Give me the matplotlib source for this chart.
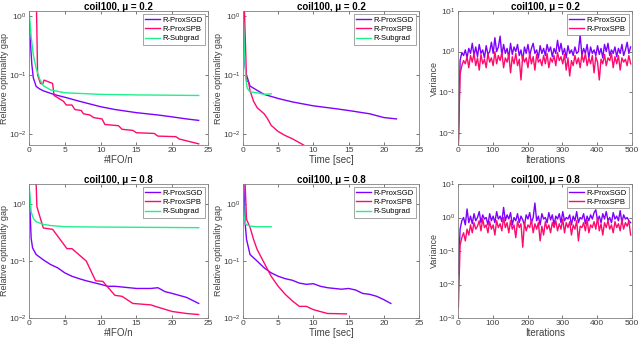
import matplotlib
matplotlib.use('Agg')
import matplotlib.pyplot as plt
import numpy as np

plt.rcParams['font.family'] = ['Liberation Sans', 'DejaVu Sans']

C_SGD = '#7f00ff'
C_SPB = '#ff0a6e'
C_SUB = '#1ef08c'

# ---- mu = 0.2, relative gap vs #IFO/n
ifo_sgd_02 = [0, 0.2, 0.4, 0.6, 1, 1.5, 2, 3, 4, 5, 7, 10, 12, 15, 18, 20, 22, 23.7]
gap_sgd_02 = [1.0, 0.35, 0.15, 0.09, 0.064, 0.058, 0.054, 0.049, 0.045, 0.042, 0.036, 0.029, 0.026, 0.023, 0.021, 0.0195, 0.018, 0.017]
ifo_spb_02 = [0, 1.05, 1.2, 1.6, 1.9, 2.1, 3.3, 3.5, 4.8, 5.2, 6.0, 6.4, 7.3, 7.6, 8.5, 9.0, 10.2, 10.6, 12.5, 13.0, 14.5, 15.0, 17.5, 18.0, 20.5, 21.0, 23.7]
gap_spb_02 = [1.3, 1.3, 0.1, 0.072, 0.07, 0.082, 0.072, 0.045, 0.036, 0.031, 0.031, 0.026, 0.025, 0.022, 0.021, 0.019, 0.018, 0.0145, 0.0138, 0.012, 0.0115, 0.0105, 0.0102, 0.0092, 0.009, 0.0082, 0.0068]
ifo_sub_02 = [0, 0.3, 0.6, 1.0, 1.5, 2.0, 3.0, 5.0, 10.0, 15.0, 23.7]
gap_sub_02 = [1.3, 0.45, 0.22, 0.13, 0.085, 0.066, 0.056, 0.05, 0.047, 0.046, 0.045]

# ---- mu = 0.2, relative gap vs time
t_sgd_02 = [0, 0.15, 0.3, 0.5, 1, 2, 3, 5, 7, 10, 13, 15, 18, 20, 21.8]
tg_sgd_02 = [1.3, 0.3, 0.14, 0.1, 0.065, 0.055, 0.047, 0.040, 0.035, 0.030, 0.027, 0.025, 0.022, 0.019, 0.018]
t_spb_02 = [0, 0.2, 0.5, 0.8, 1.0, 1.5, 2.0, 3.0, 3.5, 4.0, 5.0, 6.0, 7.0, 8.6]
tg_spb_02 = [1.3, 1.3, 0.08, 0.076, 0.054, 0.036, 0.028, 0.022, 0.018, 0.014, 0.011, 0.0094, 0.0083, 0.0065]
t_sub_02 = [0, 0.2, 0.4, 0.6, 1.0, 2.0, 3.0, 4.0]
tg_sub_02 = [1.3, 0.25, 0.09, 0.06, 0.052, 0.05, 0.047, 0.048]

# ---- mu = 0.8, relative gap vs #IFO/n
ifo_sgd_08 = [0, 0.3, 0.5, 1, 2, 3, 4, 5, 6, 7, 8, 10, 11, 12, 13, 15, 17, 18, 19, 20, 22, 23.7]
gap_sgd_08 = [2.3, 0.25, 0.17, 0.13, 0.105, 0.087, 0.076, 0.062, 0.054, 0.049, 0.045, 0.039, 0.036, 0.036, 0.035, 0.033, 0.033, 0.034, 0.029, 0.027, 0.023, 0.018]
ifo_spb_08 = [0, 1.0, 1.1, 2.0, 3.3, 5.3, 6.0, 8.0, 9.3, 10.3, 12.0, 13.0, 14.5, 17.0, 18.0, 20.0, 22.0, 23.7]
gap_spb_08 = [2.3, 2.3, 0.9, 0.38, 0.36, 0.165, 0.165, 0.1, 0.045, 0.044, 0.025, 0.024, 0.018, 0.017, 0.0155, 0.013, 0.012, 0.0115]
ifo_sub_08 = [0, 0.3, 0.6, 1, 2, 3, 5, 10, 23.7]
gap_sub_08 = [2.3, 0.73, 0.56, 0.49, 0.44, 0.42, 0.40, 0.395, 0.385]

# ---- mu = 0.8, relative gap vs time
t_sgd_08 = [0, 0.1, 0.3, 0.5, 1, 2, 3, 4, 5, 6, 7, 8, 9, 10, 11, 12, 14, 15, 16, 17, 18, 19, 20, 21]
tg_sgd_08 = [2.3, 2.3, 0.47, 0.24, 0.13, 0.10, 0.076, 0.062, 0.054, 0.049, 0.046, 0.041, 0.039, 0.040, 0.036, 0.034, 0.032, 0.033, 0.031, 0.027, 0.026, 0.024, 0.021, 0.018]
t_spb_08 = [0, 0.3, 0.5, 1, 1.5, 2, 3, 4, 5, 6, 7, 8, 9, 10, 12, 14.7]
tg_spb_08 = [2.3, 2.3, 0.54, 0.39, 0.24, 0.16, 0.093, 0.054, 0.036, 0.026, 0.020, 0.016, 0.016, 0.014, 0.012, 0.0118]
t_sub_08 = [0, 0.15, 0.4, 1, 2, 4]
tg_sub_08 = [2.3, 0.62, 0.44, 0.41, 0.40, 0.40]

# ---- variance, sampled every 5 iterations
var_sgd_02 = [0.005, 0.6, 0.95, 0.8, 1.1, 0.7, 1.2, 0.9, 1.6, 0.8, 1.3, 0.75, 1.5, 0.9, 1.1, 0.7, 1.4, 0.85, 1.0, 1.7,
              0.9, 2.2, 1.0, 1.3, 2.4, 0.8, 1.5, 0.9, 1.2, 0.7, 1.6, 0.85, 1.3, 1.0, 1.5, 0.8, 1.1, 0.6, 1.3, 0.9,
              1.5, 0.8, 1.2, 1.6, 0.9, 1.1, 0.7, 1.4, 0.9, 1.2, 0.8, 1.5, 1.0, 1.3, 0.75, 1.2, 0.9, 1.9, 1.0, 1.6,
              0.85, 1.2, 0.7, 1.4, 0.9, 1.1, 0.8, 1.3, 0.9, 1.0, 2.6, 0.8, 1.2, 0.9, 1.5, 0.7, 1.3, 0.9, 1.1, 0.8,
              1.4, 0.85, 1.2, 0.7, 1.5, 1.0, 1.6, 0.8, 1.1, 0.9, 1.3, 0.75, 1.2, 0.9, 1.5, 0.8, 1.1, 1.7, 0.9, 1.3]
var_spb_02 = [0.005, 0.28, 0.45, 0.6, 0.5, 0.75, 0.4, 0.8, 0.55, 0.9, 0.45, 0.7, 0.35, 0.85, 0.5, 0.65, 0.4, 0.9, 0.55, 0.7,
              0.45, 1.0, 0.5, 0.8, 0.6, 0.95, 0.4, 0.7, 0.55, 0.85, 0.3, 0.75, 0.5, 0.9, 0.45, 0.65, 0.2, 0.8, 0.55, 0.7,
              0.4, 0.9, 0.5, 0.75, 0.35, 0.85, 0.55, 0.65, 0.45, 0.8, 0.5, 0.9, 0.4, 0.7, 0.55, 0.8, 0.45, 0.95, 0.6, 0.75,
              0.5, 0.85, 0.35, 0.7, 0.25, 0.6, 0.45, 0.8, 0.5, 0.7, 0.4, 0.85, 0.55, 0.9, 0.45, 0.7, 0.5, 0.8, 0.3, 0.75,
              0.55, 0.2, 0.65, 0.5, 0.85, 0.45, 0.7, 0.6, 0.9, 0.4, 0.75, 0.5, 0.8, 0.35, 0.7, 0.55, 0.65, 0.45, 0.8, 0.5]
var_sgd_08 = [0.02, 0.45, 0.8, 1.0, 0.6, 1.8, 0.7, 1.1, 0.65, 1.3, 0.8, 1.0, 1.5, 0.7, 1.2, 0.9, 1.0, 0.6, 1.3, 0.8,
              1.1, 0.7, 1.5, 0.9, 1.1, 0.75, 2.0, 0.8, 1.2, 0.9, 1.4, 0.6, 1.0, 0.8, 1.3, 0.7, 1.1, 0.85, 0.6, 1.2,
              0.9, 1.4, 0.7, 1.0, 2.7, 0.8, 1.1, 0.6, 1.3, 0.9, 1.0, 0.7, 1.4, 0.85, 1.2, 0.6, 1.1, 0.9, 1.3, 0.7,
              1.5, 0.8, 1.0, 0.9, 1.2, 0.6, 1.1, 0.8, 1.5, 0.7, 1.0, 0.9, 1.3, 0.65, 1.1, 0.8, 1.2, 0.9, 1.4, 1.7,
              0.8, 1.1, 0.7, 1.3, 0.9, 1.5, 0.8, 1.0, 0.7, 1.4, 0.9, 1.1, 0.8, 1.6, 0.7, 1.2, 0.9, 1.0, 0.8, 0.7]
var_spb_08 = [0.002, 0.15, 0.25, 0.35, 0.2, 0.45, 0.3, 0.6, 0.35, 0.7, 0.45, 0.55, 0.8, 0.4, 0.9, 0.5, 0.6, 0.35, 0.75, 0.45,
              0.6, 0.3, 0.8, 0.5, 0.65, 0.4, 1.0, 0.5, 0.7, 0.35, 0.8, 0.45, 0.6, 0.25, 0.75, 0.5, 0.65, 0.13, 0.7, 0.4,
              0.6, 0.5, 0.85, 0.35, 0.65, 0.45, 0.7, 0.2, 0.55, 0.3, 0.75, 0.45, 0.6, 0.35, 0.7, 0.5, 0.8, 0.4, 0.65, 0.45,
              0.9, 0.35, 0.7, 0.5, 0.75, 0.3, 0.6, 0.45, 0.8, 0.2, 0.55, 0.5, 0.7, 0.4, 0.85, 0.35, 0.6, 0.5, 0.75, 0.45,
              1.0, 0.4, 0.65, 0.3, 0.7, 0.5, 0.8, 0.45, 0.6, 0.35, 0.75, 0.5, 0.65, 0.4, 0.85, 0.45, 0.7, 0.55, 0.8, 0.3]


def style(ax, title, xlabel, ylabel):
    ax.set_yscale('log')
    ax.set_title(title, fontsize=7, fontweight='bold', pad=0.5)
    ax.set_xlabel(xlabel, fontsize=7, color='#404040', labelpad=1)
    ax.set_ylabel(ylabel, fontsize=6.5, color='#404040')
    ax.yaxis.set_label_coords(-0.112, 0.5)
    ax.tick_params(direction='in', top=True, right=True, labelsize=6, colors='#404040',
                   length=2.5, width=0.5, pad=1.5)
    ax.minorticks_off()
    for s in ax.spines.values():
        s.set_color('#808080')
        s.set_linewidth(0.6)


def legend(ax):
    lg = ax.legend(loc='upper right', fontsize=5.5, fancybox=False, framealpha=1,
                   edgecolor='#808080', borderpad=0.3, labelspacing=0.25,
                   handlelength=2.0, handletextpad=0.3, borderaxespad=0.4)
    lg.get_frame().set_linewidth(0.5)


fig = plt.figure(figsize=(6.4, 3.42), dpi=100)
W, H = 640.0, 342.0
cols = [(29, 208), (243, 419), (458, 632)]
rows = [(11, 145), (184, 318)]
axs = []
for r0, r1 in rows:
    line = []
    for c0, c1 in cols:
        line.append(fig.add_axes([c0 / W, 1 - r1 / H, (c1 - c0) / W, (r1 - r0) / H]))
    axs.append(line)

lw = 1.0
gap_label = 'Relative optimality gap'

# top left
ax = axs[0][0]
ax.plot(ifo_sgd_02, gap_sgd_02, color=C_SGD, lw=lw, label='R-ProxSGD')
ax.plot(ifo_spb_02, gap_spb_02, color=C_SPB, lw=lw, label='R-ProxSPB')
ax.plot(ifo_sub_02, gap_sub_02, color=C_SUB, lw=lw, label='R-Subgrad')
style(ax, 'coil100, μ = 0.2', '#IFO/n', gap_label)
ax.set_xlim(0, 25)
ax.set_ylim(0.0065, 1.22)
legend(ax)

# top middle
ax = axs[0][1]
ax.plot(t_sgd_02, tg_sgd_02, color=C_SGD, lw=lw, label='R-ProxSGD')
ax.plot(t_spb_02, tg_spb_02, color=C_SPB, lw=lw, label='R-ProxSPB')
ax.plot(t_sub_02, tg_sub_02, color=C_SUB, lw=lw, label='R-Subgrad')
style(ax, 'coil100, μ = 0.2', 'Time [sec]', gap_label)
ax.set_xlim(0, 25)
ax.set_ylim(0.0065, 1.22)
legend(ax)

# top right
ax = axs[0][2]
it = np.arange(len(var_sgd_02)) * 5 + 1
ax.plot(it, var_sgd_02, color=C_SGD, lw=lw, label='R-ProxSGD')
ax.plot(it, var_spb_02, color=C_SPB, lw=lw, label='R-ProxSPB')
style(ax, 'coil100, μ = 0.2', 'Iterations', 'Variance')
ax.set_xlim(0, 500)
ax.set_ylim(0.005, 10)
legend(ax)

# bottom left
ax = axs[1][0]
ax.plot(ifo_sgd_08, gap_sgd_08, color=C_SGD, lw=lw, label='R-ProxSGD')
ax.plot(ifo_spb_08, gap_spb_08, color=C_SPB, lw=lw, label='R-ProxSPB')
ax.plot(ifo_sub_08, gap_sub_08, color=C_SUB, lw=lw, label='R-Subgrad')
style(ax, 'coil100, μ = 0.8', '#IFO/n', gap_label)
ax.set_xlim(0, 25)
ax.set_ylim(0.01, 2.25)
legend(ax)

# bottom middle
ax = axs[1][1]
ax.plot(t_sgd_08, tg_sgd_08, color=C_SGD, lw=lw, label='R-ProxSGD')
ax.plot(t_spb_08, tg_spb_08, color=C_SPB, lw=lw, label='R-ProxSPB')
ax.plot(t_sub_08, tg_sub_08, color=C_SUB, lw=lw, label='R-Subgrad')
style(ax, 'coil100, μ = 0.8', 'Time [sec]', gap_label)
ax.set_xlim(0, 25)
ax.set_ylim(0.01, 2.25)
legend(ax)

# bottom right
ax = axs[1][2]
it = np.arange(len(var_sgd_08)) * 5 + 1
ax.plot(it, var_sgd_08, color=C_SGD, lw=lw, label='R-ProxSGD')
ax.plot(it, var_spb_08, color=C_SPB, lw=lw, label='R-ProxSPB')
style(ax, 'coil100, μ = 0.8', 'Iterations', 'Variance')
ax.set_xlim(0, 500)
ax.set_ylim(0.001, 10)
legend(ax)

fig.savefig('out.png', dpi=100)
